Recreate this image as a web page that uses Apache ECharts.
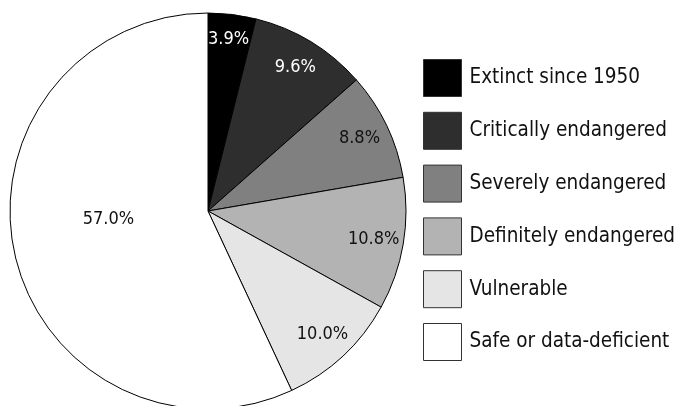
<!DOCTYPE html>
<html><head><meta charset="utf-8">
<script src="https://cdn.jsdelivr.net/npm/echarts@6/dist/echarts.min.js"></script>
<style>html,body{margin:0;padding:0;background:#fff}#c{width:678px;height:406px}</style>
</head><body><div id="c"></div>
<script>
const categories = ["Extinct since 1950","Critically endangered","Severely endangered","Definitely endangered","Vulnerable","Safe or data-deficient"];
const values = [3.9, 9.6, 8.8, 10.8, 10.0, 57.0];
const colors = ["#000000","#2e2e2e","#808080","#b3b3b3","#e5e5e5","#ffffff"];
const labelColors = ["#ffffff","#ffffff","#111111","#111111","#111111","#111111"];
const FONT = '"Liberation Sans Narrow","DejaVu Sans Condensed",Roboto,sans-serif';

const chart = echarts.init(document.getElementById('c'), null, {renderer:'canvas'});
const fmt = p => p.value.toFixed(1) + '%';
const labelOffsets = [[0,-5],[0,0],[0,0],[0,0],[0,0]];
chart.setOption({
  animation:false,
  legend:{
    orient:'vertical', left:423, top:59, padding:0,
    itemWidth:38, itemHeight:37, itemGap:14.8,
    icon:'rect',
    data: categories,
    itemStyle:{borderColor:'#333', borderWidth:1},
    textStyle:{fontFamily:FONT, fontSize:20.5, lineHeight:24, color:'#111', padding:[0,0,0,3]}
  },
  series:[
    {
      type:'pie', center:[208,211], radius:[0,198], startAngle:90, clockwise:true,
      silent:true,
      itemStyle:{borderColor:'#000', borderWidth:1},
      labelLine:{show:false},
      data: categories.map((n,i)=>({
        name:n, value:values[i], itemStyle:{color:colors[i]},
        label: i===5 ? {show:true, position:'inside', formatter:fmt, fontFamily:FONT, fontSize:18, color:labelColors[i], offset:[0,-14]} : {show:false}
      }))
    },
    {
      type:'pie', center:[208,211], radius:[132,198], startAngle:90, clockwise:true,
      silent:true,
      itemStyle:{color:'rgba(0,0,0,0)', borderWidth:0},
      labelLine:{show:false},
      data: categories.map((n,i)=>({
        name:n, value:values[i],
        label: i<5 ? {show:true, position:'inside', formatter:fmt, fontFamily:FONT, fontSize:18, color:labelColors[i], offset:labelOffsets[i]} : {show:false}
      }))
    }
  ]
});
</script></body></html>
